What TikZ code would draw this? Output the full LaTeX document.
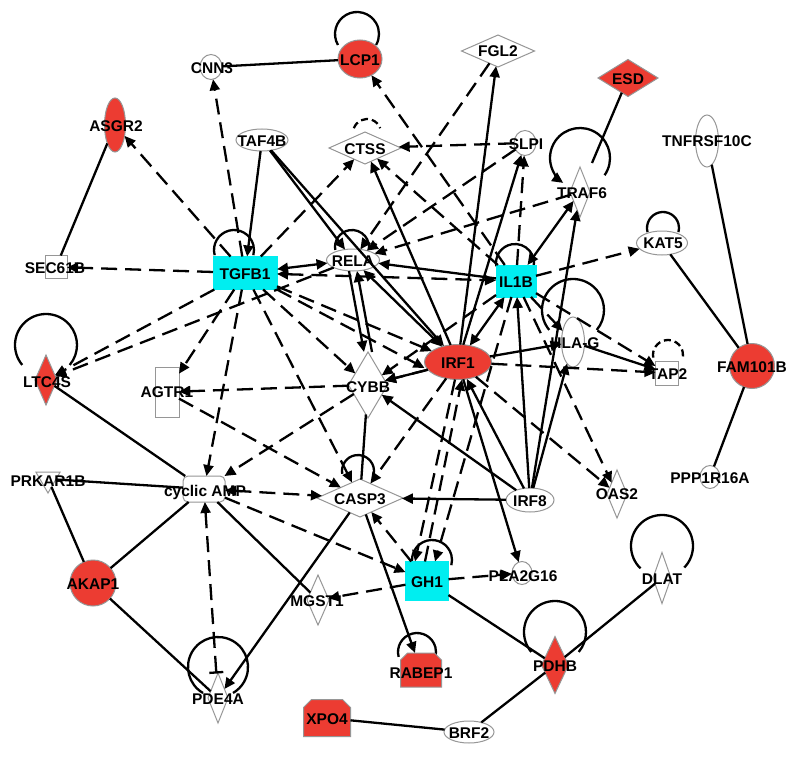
\documentclass[tikz,border=0pt]{standalone}
\usepackage{fontspec}
\setmainfont{Liberation Sans}
\usetikzlibrary{arrows.meta,shapes.geometric,shapes.misc,calc}
\definecolor{nred}{RGB}{236,60,50}
\definecolor{ncyan}{RGB}{0,238,240}
\definecolor{ngray}{RGB}{150,150,150}
\pgfdeclarelayer{bg}
\pgfsetlayers{bg,main}
\begin{document}
\begin{tikzpicture}[x=1pt,y=-1pt,
  shp/.style={draw=ngray,line width=1pt,fill=white,inner sep=0pt,outer sep=0pt},
  ell/.style={shp,ellipse},
  dia/.style={shp,diamond},
  box/.style={shp,rectangle},
  redf/.style={fill=nred},
  cyanbox/.style={shp,rectangle,fill=ncyan,draw=ncyan},
  ghost/.style={rectangle,inner sep=0pt,outer sep=0pt},
  chamfline/.style={draw=ngray,line width=1pt,fill=nred},
  sz/.style 2 args={minimum width=#1pt,minimum height=#2pt},
  lbl/.style={font=\fontsize{15.5}{16}\selectfont\bfseries,inner sep=0pt,text height=11.2pt,text depth=0pt},
  sol/.style={line width=2.3pt,black},
  dsh/.style={sol,dash pattern=on 16pt off 8pt},
  ldsh/.style={sol,dash pattern=on 7pt off 4pt},
  tip/.style={-{Triangle[length=11pt,width=10pt]}},
  tips/.style={{Triangle[length=11pt,width=10pt]}-{Triangle[length=11pt,width=10pt]}},
]
\path[use as bounding box] (0,0) rectangle (800,757);
% ---------- node shapes ----------
\node[ell,sz={22}{25}] (cnn3) at (211,67) {};
\node[ell,redf,sz={44}{38}] (lcp1) at (360,59) {};
\node[dia,sz={73}{32}] (fgl2) at (498,51) {};
\node[dia,redf,sz={60}{37}] (esd) at (628,78) {};
\node[ell,redf,sz={21}{54}] (asgr2) at (115,125) {};
\node[ell,sz={52}{22}] (taf4b) at (262,140) {};
\node[dia,sz={72}{32}] (ctss) at (365,148) {};
\node[ell,sz={22}{25}] (slpi) at (525,143) {};
\node[dia,sz={20}{50}] (traf6) at (580,192) {};
\node[ell,sz={23}{52}] (tnf) at (707,141) {};
\node[box,sz={22}{23}] (sec61b) at (56,267) {};
\node[cyanbox,sz={64}{33}] (tgfb1) at (245,273) {};
\node[ell,sz={53}{22}] (rela) at (353,260) {};
\node[cyanbox,sz={40}{32}] (il1b) at (516,281) {};
\node[ell,sz={51}{24}] (kat5) at (662,243) {};
\node[dia,redf,sz={22}{50}] (ltc4s) at (46,380) {};
\node[box,sz={24}{50}] (agtr1) at (167,392) {};
\node[dia,sz={39}{66}] (cybb) at (368,385) {};
\node[ell,redf,sz={67}{35}] (irf1) at (458,362) {};
\node[ell,sz={23}{50}] (hlag) at (573,342) {};
\node[box,sz={23}{24}] (tap2) at (667,373) {};
\node[ell,redf,sz={45}{45}] (fam) at (752,366) {};
\node[shp,regular polygon,regular polygon sides=3,shape border rotate=180,minimum size=28pt] (prk) at (48,479) {};
\node[shp,rounded corners=5pt,sz={42}{26}] (camp) at (204,489) {};
\node[dia,sz={86}{38}] (casp3) at (360,498) {};
\node[ell,sz={48}{24}] (irf8) at (530,500) {};
\node[dia,sz={20}{48}] (oas2) at (617,494) {};
\node[ell,sz={20}{23}] (ppp) at (710,477) {};
\node[ell,redf,sz={46}{46}] (akap1) at (93,583) {};
\node[dia,sz={22}{50}] (mgst1) at (318,600) {};
\node[cyanbox,sz={43}{39}] (gh1) at (427,581) {};
\node[ell,sz={20}{23}] (pla) at (522,573) {};
\node[dia,sz={18}{51}] (dlat) at (662,578) {};
\node[dia,redf,sz={27}{57}] (pdhb) at (555,665) {};
\node[dia,sz={20}{50}] (pde4a) at (218,698) {};
\node[ghost,sz={41}{34}] (rabep1) at (421,670) {};
\node[ghost,sz={47}{37}] (xpo4) at (327,718) {};
\node[ell,sz={50}{22}] (brf2) at (469,732) {};
\coordinate (esdend) at (592,163);
% chamfered outlines of RABEP1 and XPO4
\path[chamfline] (rabep1.south west) -- (rabep1.south east) -- ([yshift=-7pt]rabep1.north east) -- ([xshift=-7pt]rabep1.north east) -- ([xshift=7pt]rabep1.north west) -- ([yshift=-7pt]rabep1.north west) -- cycle;
\path[chamfline] (xpo4.south west) -- (xpo4.south east) -- ([yshift=-8pt]xpo4.north east) -- ([xshift=-8pt]xpo4.north east) -- ([xshift=8pt]xpo4.north west) -- ([yshift=-8pt]xpo4.north west) -- cycle;
% ---------- self loops (behind shapes) ----------
\begin{pgfonlayer}{bg}
\fill[white] (0,0) rectangle (800,757);
\draw[sol] ($(lcp1)+(-3,-25)+(150:22)$) arc[start angle=150,end angle=390,radius=22];
\draw[ldsh] ($(ctss)+(2,-15)+(200:14)$) arc[start angle=200,end angle=340,radius=14];
\draw[sol] ($(tgfb1)+(-11,-23)+(165:20)$) arc[start angle=165,end angle=375,radius=20];
\draw[sol] ($(rela)+(-1,-13)+(170:17)$) arc[start angle=170,end angle=370,radius=17];
\draw[sol] ($(il1b)+(-1,-18)+(170:19)$) arc[start angle=170,end angle=370,radius=19];
\draw[sol] ($(kat5)+(1,-15)+(165:16)$) arc[start angle=165,end angle=375,radius=16];
\draw[sol,tip] ($(traf6)+(0,-34)+(35:30)$) arc[start angle=35,end angle=-236,radius=30];
\draw[sol] ($(ltc4s)+(0,-35)+(140:31)$) arc[start angle=140,end angle=400,radius=31];
\draw[sol] ($(hlag)+(0,-32)+(140:31)$) arc[start angle=140,end angle=400,radius=31];
\draw[ldsh] ($(tap2)+(1,-18)+(170:15)$) arc[start angle=170,end angle=380,radius=15];
\draw[sol] ($(casp3)+(-2,-27)+(170:16)$) arc[start angle=170,end angle=370,radius=16];
\draw[sol] ($(gh1)+(5,-21)+(165:20)$) arc[start angle=165,end angle=375,radius=20];
\draw[sol] ($(rabep1)+(-4,-18)+(165:19)$) arc[start angle=165,end angle=375,radius=19];
\draw[sol] ($(pdhb)+(0,-33)+(140:31)$) arc[start angle=140,end angle=400,radius=31];
\draw[sol] ($(dlat)+(0,-32)+(134:31)$) arc[start angle=134,end angle=404,radius=31];
\draw[sol] ($(pde4a)+(0,-31)+(120:30)$) arc[start angle=120,end angle=420,radius=30];
\end{pgfonlayer}
% ---------- dashed connectors ----------
\draw[dsh,tip] (tgfb1) -- (cnn3);
\draw[dsh,tip] (tgfb1) -- (asgr2);
\draw[dsh,tip] (tgfb1) -- (sec61b);
\draw[dsh,tip] (tgfb1) -- (ltc4s);
\draw[dsh,tip] (rela) -- (ltc4s);
\draw[dsh,tip] (tgfb1) -- (agtr1);
\draw[dsh,tip] (tgfb1) -- (camp);
\draw[dsh,tip] (tgfb1) -- (cybb);
\draw[dsh,tip] (tgfb1) -- (casp3);
\draw[dsh,tip] (tgfb1) -- (irf1);
\draw[dsh,tip] (tgfb1.south east) -- ([yshift=-6pt]irf1.west);
\draw[dsh,tip] (tgfb1) -- (ctss);
\draw[dsh,tips] (tgfb1) -- (il1b);
\draw[dsh,tip] (agtr1) -- (casp3);
\draw[dsh,tip] (cybb) -- (agtr1);
\draw[dsh,tip] (cybb) -- (camp);
\draw[dsh,tips] (camp) -- (casp3);
\draw[dsh,tip] (camp) -- (gh1);
\draw[dsh,{Bar[width=14pt]}-{Triangle[length=11pt,width=10pt]},shorten <=3pt] (pde4a) -- (camp);
\draw[dsh,tip] (irf1) -- (casp3);
\draw[dsh,tip] (gh1) -- (casp3);
\draw[dsh,tip] ([xshift=-3pt]irf1.south) -- ([xshift=-12pt]gh1.north);
\draw[dsh,tip] ([xshift=-2pt]gh1.north) -- ([xshift=4pt]irf1.south);
\draw[dsh,tip] (il1b) -- ([xshift=8pt]gh1.north);
\draw[dsh,tip] (gh1) -- (mgst1);
\draw[dsh,tip] (gh1) -- (pla);
\draw[dsh,tip] (il1b) -- (kat5);
\draw[dsh,tip] (il1b) -- (tap2);
\draw[dsh,tip] (irf1) -- (tap2);
\draw[dsh,tip] (il1b) -- (oas2);
\draw[dsh,tip] (irf1) -- (oas2);
\draw[dsh,tip] (il1b) -- (hlag);
\draw[dsh,tip] (slpi) -- (ctss);
\draw[dsh,tip] (slpi) -- (rela);
\draw[dsh,tip] (traf6) -- (rela);
\draw[dsh,tip] (fgl2) -- (rela);
\draw[dsh,tip] (il1b) -- (lcp1);
\draw[dsh,tip] (il1b) -- (ctss);
\draw[dsh,tip] (il1b) -- (slpi);
\draw[dsh,tip] (irf1) -- (cybb);
\draw[dsh,tip] (il1b) -- (cybb);
% ---------- solid connectors ----------
\draw[sol] (cnn3) -- (lcp1);
\draw[sol] (asgr2) -- (sec61b);
\draw[sol] (esd) -- (esdend);
\draw[sol] (tnf) -- (fam);
\draw[sol] (kat5) -- (fam);
\draw[sol] (fam) -- (ppp);
\draw[sol] (ltc4s) -- (camp);
\draw[sol] (prk) -- (camp);
\draw[sol] (prk) -- (akap1);
\draw[sol] (akap1) -- (camp);
\draw[sol] (akap1) -- (pde4a);
\draw[sol] (camp) -- (mgst1);
\draw[sol,tip] (casp3) -- (pde4a);
\draw[sol] (gh1) -- (pdhb);
\draw[sol] (pdhb) -- (dlat);
\draw[sol] (pdhb) -- (brf2);
\draw[sol] (xpo4) -- (brf2);
\draw[sol,tip] (casp3) -- (rabep1);
\draw[sol,tip] (irf8) -- (casp3);
\draw[sol,tip] (irf8) -- (cybb);
\draw[sol,tip] (irf8) -- (irf1);
\draw[sol,tip] (irf8) -- (il1b);
\draw[sol,tip] (irf8) -- (traf6);
\draw[sol,tip] (irf8) -- (hlag);
\draw[sol,tip] (irf1) -- (pla);
\draw[sol,tip] (irf1) -- (fgl2);
\draw[sol,tip] (irf1) -- (ctss);
\draw[sol,tip] (irf1) -- (slpi);
\draw[sol,tips] (irf1) -- (il1b);
\draw[sol,tip] (irf1) -- (hlag);
\draw[sol,tip] (hlag) -- (tap2);
\draw[sol,tips] (il1b) -- (traf6);
\draw[sol,tip] (il1b) -- (rela);
\draw[sol,tip] (taf4b) -- (tgfb1);
\draw[sol,tip] (taf4b) -- (rela);
\draw[sol,tip] (taf4b) -- (irf1);
\draw[sol,tips] (tgfb1) -- (rela);
\draw[sol,tips] (rela) -- (irf1);
\draw[sol,tip] ([xshift=-4pt]rela.south) -- ([xshift=-4pt]cybb.north);
\draw[sol,tip] ([xshift=4pt]cybb.north) -- ([xshift=4pt]rela.south);
\draw[sol] (casp3) -- (cybb);
\draw[sol,tip] (irf1) -- (cybb);
% ---------- labels ----------
\node[lbl] (tcnn3) at (212,68) {CNN3};
\node[lbl] (tlcp1) at (360,60) {LCP1};
\node[lbl] (tfgl2) at (498,51) {FGL2};
\node[lbl] (tesd) at (628,79) {ESD};
\node[lbl] (tasgr2) at (116,126) {ASGR2};
\node[lbl] (ttaf4b) at (262,141) {TAF4B};
\node[lbl] (tctss) at (365,149) {CTSS};
\node[lbl] (tslpi) at (526,144) {SLPI};
\node[lbl] (ttraf6) at (582,193) {TRAF6};
\node[lbl] (ttnf) at (707,141) {TNFRSF10C};
\node[lbl] (tsec61b) at (55,268) {SEC61B};
\node[lbl] (ttgfb1) at (245,274) {TGFB1};
\node[lbl] (trela) at (353,261) {RELA};
\node[lbl] (til1b) at (516,282) {IL1B};
\node[lbl] (tkat5) at (663,243) {KAT5};
\node[lbl] (tltc4s) at (47,382) {LTC4S};
\node[lbl] (tagtr1) at (167,392) {AGTR1};
\node[lbl] (tcybb) at (368,387) {CYBB};
\node[lbl] (tirf1) at (458,363) {IRF1};
\node[lbl] (thlag) at (575,343) {HLA-G};
\node[lbl] (ttap2) at (668,374) {TAP2};
\node[lbl] (tfam) at (752,367) {FAM101B};
\node[lbl] (tprk) at (48,481) {PRKAR1B};
\node[lbl] (tcamp) at (205,491) {cyclic AMP};
\node[lbl] (tcasp3) at (360,499) {CASP3};
\node[lbl] (tirf8) at (530,501) {IRF8};
\node[lbl] (toas2) at (617,494) {OAS2};
\node[lbl] (tppp) at (710,478) {PPP1R16A};
\node[lbl] (takap1) at (93,584) {AKAP1};
\node[lbl] (tmgst1) at (317,601) {MGST1};
\node[lbl] (tgh1) at (427,582) {GH1};
\node[lbl] (tpla) at (523,576) {PLA2G16};
\node[lbl] (tdlat) at (662,579) {DLAT};
\node[lbl] (tpdhb) at (555,666) {PDHB};
\node[lbl] (tpde4a) at (218,699) {PDE4A};
\node[lbl] (trabep1) at (421,673) {RABEP1};
\node[lbl] (txpo4) at (327,719) {XPO4};
\node[lbl] (tbrf2) at (469,733) {BRF2};
\end{tikzpicture}
\end{document}
